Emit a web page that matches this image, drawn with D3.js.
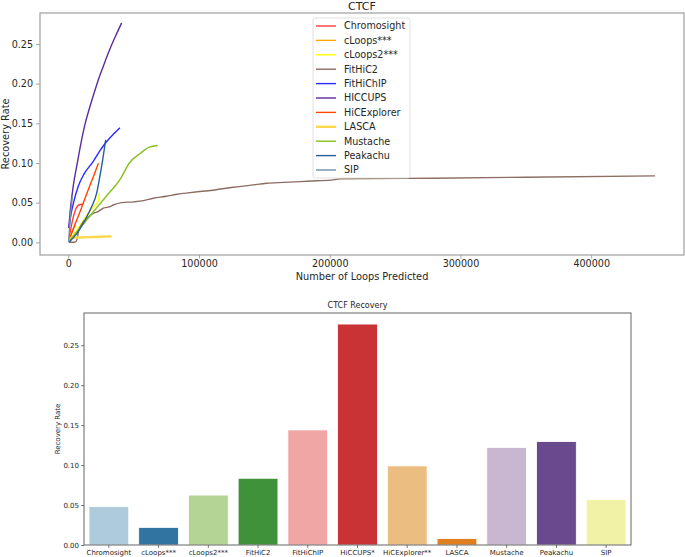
<!DOCTYPE html>
<html>
<head>
<meta charset="utf-8">
<script src="https://cdn.jsdelivr.net/npm/d3@7"></script>
<style>
  html, body { margin: 0; padding: 0; background: #fff; }
  svg { display: block; font-family: "DejaVu Sans", sans-serif; }
</style>
</head>
<body>
<svg id="chart" width="685" height="557"></svg>
<script>
// ---------- DATA ----------
const methods = ["Chromosight", "cLoops***", "cLoops2***", "FitHiC2", "FitHiChIP", "HICCUPS", "HiCExplorer", "LASCA", "Mustache", "Peakachu", "SIP"];

// Recovery curves: [loops predicted, recovery rate]
const chromosightCurve = [[500,0.005],[2000,0.018],[4000,0.033],[6000,0.043],[8000,0.047],[11000,0.048]];
const cloopsCurve = [[500,0.001],[2000,0.009],[4000,0.017],[5500,0.022]];
const cloops2Curve = [[500,0.001],[5000,0.012],[10000,0.024],[15000,0.036],[20000,0.046],[23000,0.052],[23700,0.0625]];
const fithic2Curve = [[500,0],[5000,0],[6500,0.003],[8000,0.015],[10000,0.022],[12000,0.027],[14100,0.030],[17000,0.034],[19100,0.0366],[22000,0.038],[26800,0.043],[31900,0.045],[34400,0.047],[40900,0.050],[50000,0.051],[57400,0.0525],[65000,0.0556],[75000,0.058],[82900,0.0606],[90000,0.062],[100800,0.064],[112000,0.066],[126200,0.0694],[140000,0.072],[151800,0.0745],[165000,0.0755],[177300,0.0765],[190000,0.0775],[202800,0.0787],[208000,0.080],[279300,0.0808],[350000,0.082],[448900,0.0837]];
const fithichipCurve = [[500,0.018],[2000,0.035],[4000,0.05],[7700,0.071],[12000,0.086],[19100,0.102],[24000,0.115],[29400,0.127],[35000,0.137],[39500,0.1445]];
const hiccupsCurve = [[300,0.018],[1500,0.04],[3800,0.071],[6900,0.10],[9800,0.126],[12800,0.149],[16000,0.168],[19500,0.187],[23000,0.205],[26800,0.222],[30000,0.236],[33200,0.249],[37000,0.263],[40800,0.2765]];
const hicexplorerCurve = [[500,0.003],[5000,0.022],[10000,0.043],[16600,0.072],[20000,0.086],[23000,0.0995]];
const lascaCurve = [[500,0.003],[2000,0.0055],[6000,0.006],[15000,0.0065],[25000,0.007],[33200,0.0075]];
const mustacheCurve = [[500,0.001],[10000,0.02],[20000,0.04],[30000,0.06],[39500,0.079],[46700,0.10],[55000,0.112],[62000,0.12],[68400,0.122]];
const peakachuCurve = [[500,0],[6000,0.01],[12800,0.028],[17900,0.045],[21700,0.062],[23700,0.079],[26300,0.104],[28600,0.129]];
const sipCurve = [[300,0],[1000,0.02],[2000,0.04],[3000,0.057]];

const curves = [chromosightCurve, cloopsCurve, cloops2Curve, fithic2Curve, fithichipCurve, hiccupsCurve, hicexplorerCurve, lascaCurve, mustacheCurve, peakachuCurve, sipCurve];

// Bar chart
const barLabels = ["Chromosight", "cLoops***", "cLoops2***", "FitHiC2", "FitHiChIP", "HiCCUPS*", "HiCExplorer**", "LASCA", "Mustache", "Peakachu", "SIP"];
const barValues = [0.048, 0.022, 0.0625, 0.0835, 0.144, 0.2765, 0.099, 0.008, 0.122, 0.1295, 0.057];

const xTicksTop = [0, 100000, 200000, 300000, 400000];
const yTicksTop = [0, 0.05, 0.10, 0.15, 0.20, 0.25];
const yTicksBottom = [0, 0.05, 0.10, 0.15, 0.20, 0.25];

// ---------- STYLES ----------
const lineColors = ["#ff3b3b", "#ffa500", "#ffff00", "#8c6d62", "#2a2aff", "#5b2c9f", "#ff4500", "#ffd84d", "#86c11f", "#265f9c", "#6f8faa"];
const lineWidths = [1.4, 1.4, 1.4, 1.4, 1.4, 1.4, 1.4, 2.4, 1.4, 1.4, 1.4];
const barColors = ["#aecbdb", "#3274a1", "#b3d495", "#3f923a", "#efa6a5", "#ca3335", "#ebbd81", "#df7f20", "#c9b7d1", "#6b498f", "#f2f2a6"];

const svg = d3.select("#chart");

// ---------- TOP CHART ----------
const T = { left: 40, top: 13, right: 684, bottom: 255 };
const xTop = d3.scaleLinear().domain([-21650, 471000]).range([T.left, T.right]);
const yTop = d3.scaleLinear().domain([-0.016, 0.289]).range([T.bottom, T.top]);

const gTop = svg.append("g");

// lines
const lineGen = d3.line().x(d => xTop(d[0])).y(d => yTop(d[1])).curve(d3.curveMonotoneX);
curves.forEach((c, i) => {
  gTop.append("path")
    .datum(c)
    .attr("d", lineGen)
    .attr("fill", "none")
    .attr("stroke", lineColors[i])
    .attr("stroke-width", lineWidths[i])
    .attr("stroke-linejoin", "round");
});

// spines
gTop.append("rect")
  .attr("x", T.left).attr("y", T.top)
  .attr("width", T.right - T.left).attr("height", T.bottom - T.top)
  .attr("fill", "none").attr("stroke", "#a6a6a6").attr("stroke-width", 1.3);

// axes
const xAxisTop = d3.axisBottom(xTop).tickValues(xTicksTop).tickFormat(d3.format("d")).tickSize(3.5).tickPadding(1.5);
const gxTop = gTop.append("g").attr("transform", `translate(0,${T.bottom})`).call(xAxisTop);
gxTop.select(".domain").remove();
gxTop.selectAll("line").attr("stroke", "#a6a6a6").attr("stroke-width", 1);
gxTop.selectAll("text").attr("font-size", "9.6px").attr("fill", "#262626").attr("font-family", "DejaVu Sans");

const yAxisTop = d3.axisLeft(yTop).tickValues(yTicksTop).tickFormat(d3.format(".2f")).tickSize(4).tickPadding(3);
const gyTop = gTop.append("g").attr("transform", `translate(${T.left},0)`).call(yAxisTop);
gyTop.select(".domain").remove();
gyTop.selectAll("line").attr("stroke", "#a6a6a6").attr("stroke-width", 1);
gyTop.selectAll("text").attr("font-size", "9.6px").attr("fill", "#262626").attr("font-family", "DejaVu Sans");

// labels
gTop.append("text").attr("x", (T.left + T.right) / 2).attr("y", 9.5)
  .attr("text-anchor", "middle").attr("font-size", "11px").attr("fill", "#262626").text("CTCF");
gTop.append("text").attr("x", (T.left + T.right) / 2).attr("y", 280)
  .attr("text-anchor", "middle").attr("font-size", "9.8px").attr("fill", "#262626").text("Number of Loops Predicted");
gTop.append("text").attr("transform", `translate(9,${(T.top + T.bottom) / 2}) rotate(-90)`)
  .attr("text-anchor", "middle").attr("font-size", "9.8px").attr("fill", "#262626").text("Recovery Rate");

// legend
const L = { x: 313, y: 18, w: 97, h: 160, rowH: 14.4 };
const gLeg = gTop.append("g");
gLeg.append("rect").attr("x", L.x).attr("y", L.y).attr("width", L.w).attr("height", L.h)
  .attr("rx", 2).attr("fill", "#fff").attr("fill-opacity", 0.85).attr("stroke", "#d8d8d8").attr("stroke-width", 0.8);
methods.forEach((m, i) => {
  const yy = L.y + 8 + i * L.rowH;
  gLeg.append("line").attr("x1", L.x + 3).attr("x2", L.x + 23).attr("y1", yy).attr("y2", yy)
    .attr("stroke", lineColors[i]).attr("stroke-width", lineWidths[i]);
  gLeg.append("text").attr("x", L.x + 31).attr("y", yy).attr("dy", "0.35em")
    .attr("font-size", "9.6px").attr("fill", "#262626").text(m);
});

// ---------- BOTTOM CHART ----------
const B = { left: 84, top: 313, right: 631, bottom: 545 };
const xBot = d3.scaleBand().domain(barLabels).range([B.left, B.right]).paddingInner(0.2).paddingOuter(0.1);
const yBot = d3.scaleLinear().domain([0, d3.max(barValues) * 1.05]).range([B.bottom, B.top]);

const gBot = svg.append("g");
gBot.selectAll("rect.bar").data(barLabels).enter().append("rect")
  .attr("class", "bar")
  .attr("x", d => xBot(d))
  .attr("width", xBot.bandwidth())
  .attr("y", (d, i) => yBot(barValues[i]))
  .attr("height", (d, i) => B.bottom - yBot(barValues[i]))
  .attr("fill", (d, i) => barColors[i])
  .attr("stroke", "#ffffff").attr("stroke-width", 0.8);

gBot.append("rect")
  .attr("x", B.left).attr("y", B.top)
  .attr("width", B.right - B.left).attr("height", B.bottom - B.top)
  .attr("fill", "none").attr("stroke", "#555").attr("stroke-width", 0.9);

const xAxisBot = d3.axisBottom(xBot).tickSize(3).tickPadding(2);
const gxBot = gBot.append("g").attr("transform", `translate(0,${B.bottom})`).call(xAxisBot);
gxBot.select(".domain").remove();
gxBot.selectAll("line").attr("stroke", "#444").attr("stroke-width", 0.7);
gxBot.selectAll("text").attr("font-size", "7px").attr("fill", "#262626").attr("font-family", "DejaVu Sans");

const yAxisBot = d3.axisLeft(yBot).tickValues(yTicksBottom).tickFormat(d3.format(".2f")).tickSize(3).tickPadding(2);
const gyBot = gBot.append("g").attr("transform", `translate(${B.left},0)`).call(yAxisBot);
gyBot.select(".domain").remove();
gyBot.selectAll("line").attr("stroke", "#444").attr("stroke-width", 0.7);
gyBot.selectAll("text").attr("font-size", "7px").attr("fill", "#262626").attr("font-family", "DejaVu Sans");

gBot.append("text").attr("x", (B.left + B.right) / 2).attr("y", 308)
  .attr("text-anchor", "middle").attr("font-size", "8px").attr("fill", "#262626").text("CTCF Recovery");
gBot.append("text").attr("transform", `translate(60,${(B.top + B.bottom) / 2}) rotate(-90)`)
  .attr("text-anchor", "middle").attr("font-size", "7px").attr("fill", "#262626").text("Recovery Rate");
</script>
</body>
</html>
